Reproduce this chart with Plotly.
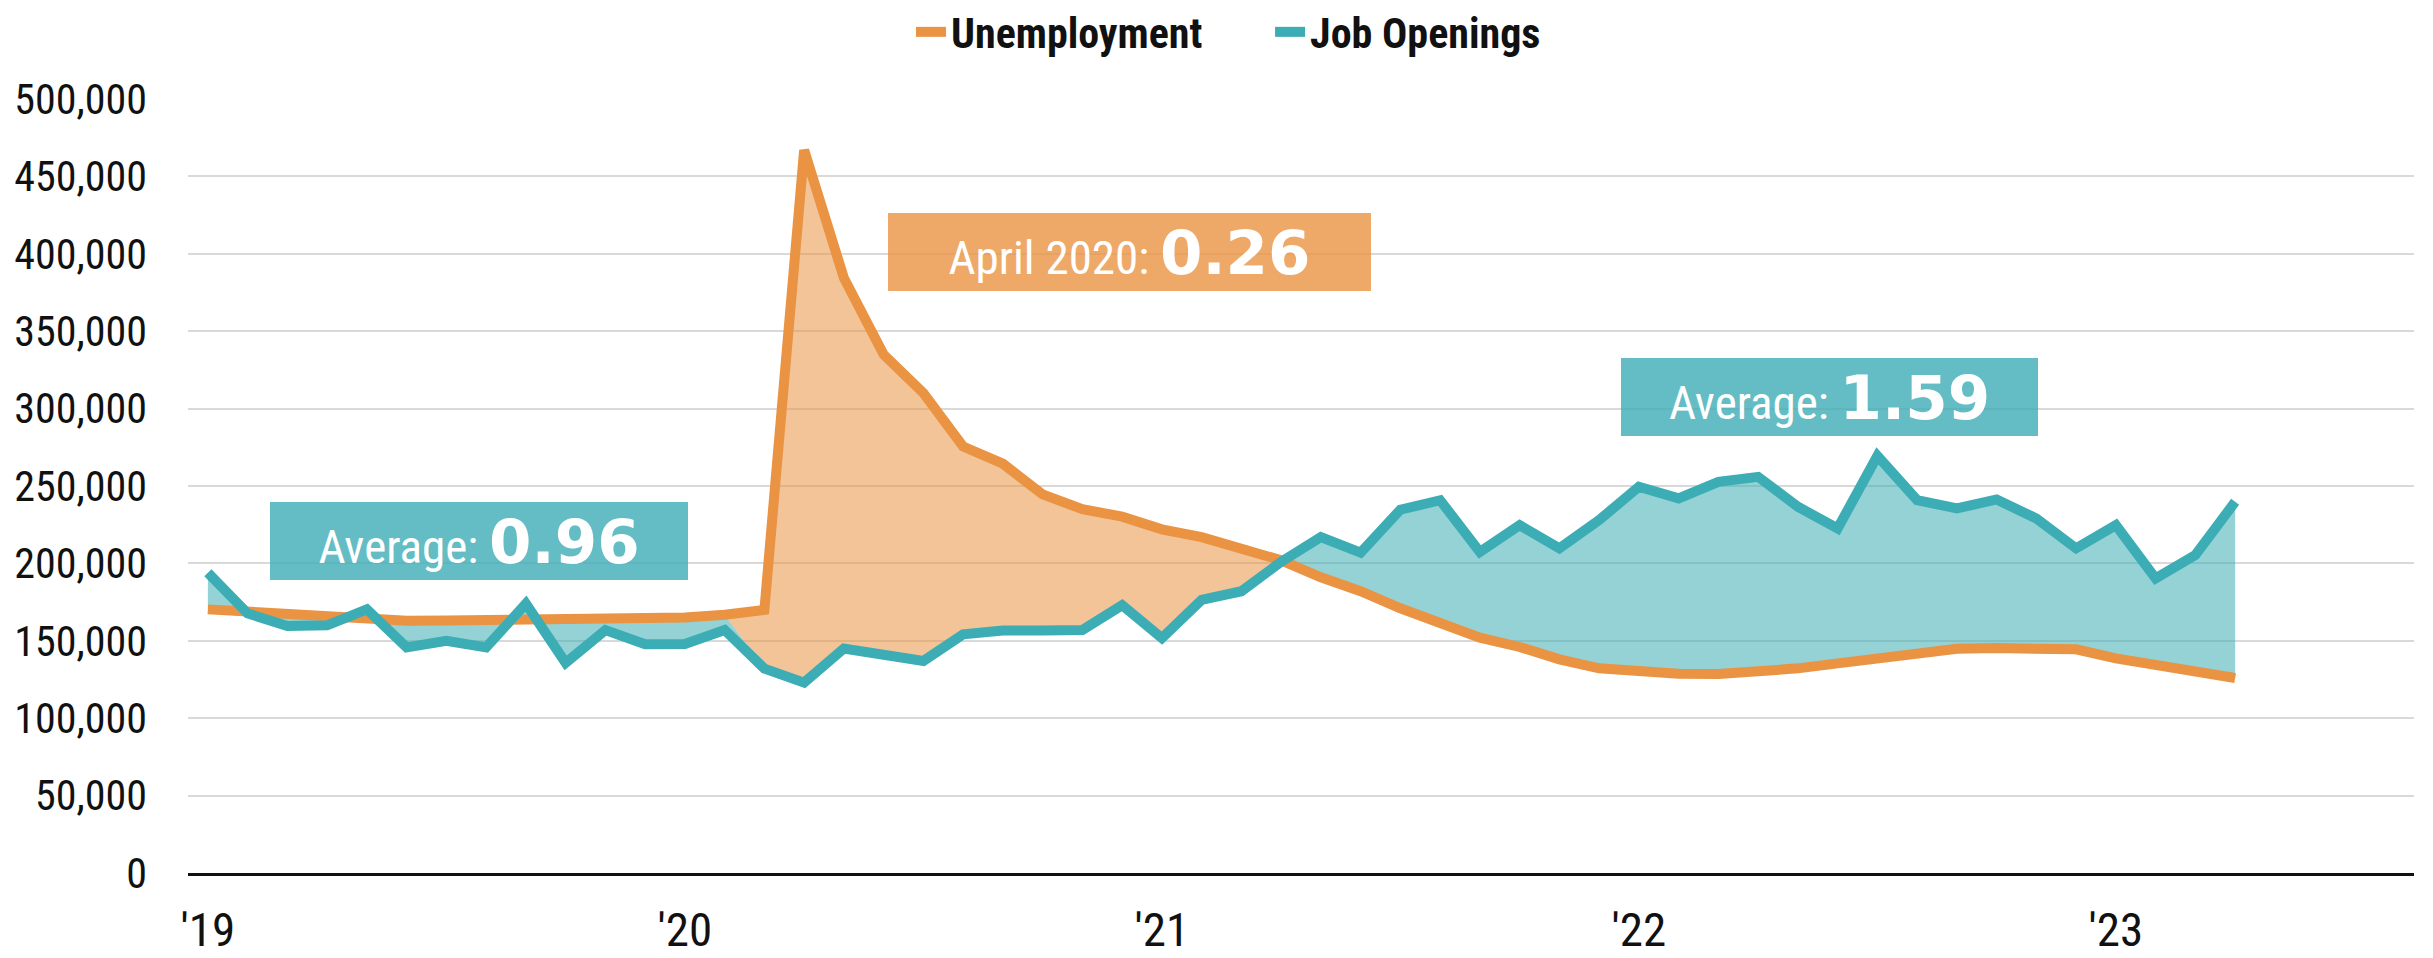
import plotly.graph_objects as go

# ---------------- data ----------------
months = [f"{y}-{m:02d}" for y in range(2019, 2024) for m in range(1, 13)][:52]

unemployment = [
    170300, 168800, 167200, 165500, 163800, 163000, 163100, 163400, 163400, 163000,
    163000, 163800, 165000, 166800, 170000, 467000, 384400, 334900, 310100, 275500,
    264400, 244600, 235100, 230200, 222000, 217000, 209000, 202000, 191000, 182000,
    171000, 161000, 152000, 146000, 138000, 132200, 129800, 128700, 128500, 130000,
    132200, 135400, 138600, 142900, 144900, 145300, 144700, 144500, 138600, 134300,
    130000, 126000,
]

job_openings = [
    194000, 167700, 159500, 160000, 170300, 145700, 150000, 145700, 174000, 135800,
    156900, 147800, 148000, 157000, 132000, 123000, 145000, 141000, 137000, 154200,
    156700, 156700, 157000, 173000, 151800, 176500, 182000, 201000, 217000, 207000,
    234700, 240800, 207400, 224700, 209700, 228000, 249500, 242000, 252700, 255900,
    236600, 222600, 269500, 240900, 235500, 241300, 229000, 209700, 224700, 190300,
    205400, 239800,
]

year_tick_months = ["2019-01", "2020-01", "2021-01", "2022-01", "2023-01"]
year_tick_labels = ["'19", "'20", "'21", "'22", "'23"]

series_names = ["Unemployment", "Job Openings"]
box_texts = [("Average: ", "0.96"), ("April 2020: ", "0.26"), ("Average: ", "1.59")]
covid_start_month = "2020-02"

# ---------------- style ----------------
ORANGE = "#EA9343"
TEAL = "#3DADB5"
ORANGE_FILL = "rgba(234,147,67,0.55)"
TEAL_FILL = "rgba(61,173,181,0.55)"
ORANGE_BOX = "rgba(234,147,67,0.8)"
TEAL_BOX = "rgba(61,173,181,0.8)"
NARROW = "Liberation Sans Narrow, Arial Narrow, Roboto Condensed, sans-serif"

x = list(range(len(months)))
tickvals = [months.index(m) for m in year_tick_months]

fig = go.Figure()

# split points: pandemic start and the later crossing of the two series
k0 = months.index(covid_start_month) + 1
k = k0 + 1
while k < len(x) and unemployment[k] > job_openings[k]:
    k += 1
d0 = unemployment[k - 1] - job_openings[k - 1]
d1 = unemployment[k] - job_openings[k]
t = d0 / (d0 - d1)
xc = x[k - 1] + t
yc = unemployment[k - 1] + t * (unemployment[k] - unemployment[k - 1])


def add_poly(px_, py_, color):
    fig.add_trace(go.Scatter(x=px_ + [px_[0]], y=py_ + [py_[0]], mode="lines",
                             line=dict(width=0), fill="toself", fillcolor=color,
                             showlegend=False, hoverinfo="skip"))


# teal region before the pandemic
add_poly(x[:k0] + [x[k0]] + x[:k0][::-1],
         unemployment[:k0] + [job_openings[k0]] + job_openings[:k0][::-1],
         TEAL_FILL)
# orange region during the pandemic
add_poly([x[k0 - 1]] + x[k0:k] + [xc] + x[k0:k][::-1],
         [unemployment[k0 - 1]] + unemployment[k0:k] + [yc] + job_openings[k0:k][::-1],
         ORANGE_FILL)
# teal region after the crossing
add_poly([xc] + x[k:] + x[k:][::-1],
         [yc] + job_openings[k:] + unemployment[k:][::-1],
         TEAL_FILL)

# lines (each in its own single-entry legend for exact placement)
fig.add_trace(go.Scatter(x=x, y=unemployment, mode="lines", name=series_names[0],
                         line=dict(color=ORANGE, width=10), legend="legend"))
fig.add_trace(go.Scatter(x=x, y=job_openings, mode="lines", name=series_names[1],
                         line=dict(color=TEAL, width=10), legend="legend2"))

# annotation boxes (positions in axis units)
boxes = [
    (6.82, 214470, 418, TEAL_BOX, box_texts[0]),
    (23.18, 401163, 483, ORANGE_BOX, box_texts[1]),
    (40.79, 307494, 417, TEAL_BOX, box_texts[2]),
]
for bx, by, bw, col, (lab, val) in boxes:
    fig.add_annotation(
        x=bx, y=by, xref="x", yref="y", showarrow=False,
        text=f"{lab}<span style='font-family:DejaVu Sans, Liberation Sans, sans-serif;font-size:61px'><b>{val}</b></span>",
        font=dict(family=NARROW, size=47, color="white"),
        bgcolor=col, width=bw, height=78, borderpad=0, borderwidth=0,
        xanchor="center", yanchor="middle", align="center", valign="middle",
    )

legend_font = dict(family=NARROW, size=42, color="#111111", weight="bold")

fig.update_layout(
    width=2425, height=950,
    margin=dict(l=180, r=19, t=91, b=85, autoexpand=False),
    paper_bgcolor="white", plot_bgcolor="white",
    font=dict(family=NARROW, size=47, color="#111111"),
    hovermode=False,
    legend=dict(orientation="h", x=0.3248, xanchor="left", y=1.0865, yanchor="middle",
                font=legend_font, bgcolor="rgba(0,0,0,0)"),
    legend2=dict(orientation="h", x=0.4861, xanchor="left", y=1.0865, yanchor="middle",
                 font=legend_font, bgcolor="rgba(0,0,0,0)"),
    xaxis=dict(range=[-0.5, 55.5], tickmode="array", tickvals=tickvals, ticktext=year_tick_labels,
               showgrid=False, zeroline=False, showline=True, linecolor="#111111", linewidth=3,
               ticks="", ticklabelstandoff=14, tickfont=dict(family=NARROW, size=47)),
    yaxis=dict(range=[0, 500000], dtick=50000, tickformat=",", showgrid=True,
               gridcolor="#D9D9D9", gridwidth=2, zeroline=False, showline=False, ticks="",
               ticklabelstandoff=40, tickfont=dict(family=NARROW, size=42)),
)

fig.write_html("out.html")
